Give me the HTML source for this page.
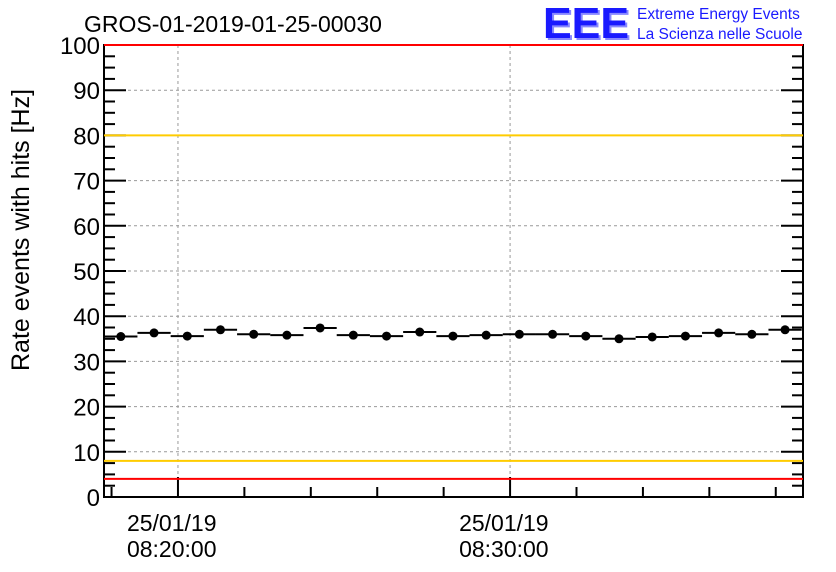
<!DOCTYPE html>
<html><head><meta charset="utf-8"><style>
body{margin:0;background:#fff}
svg{display:block;font-family:"Liberation Sans",sans-serif}
</style></head><body>
<svg id="chart" width="836" height="572" viewBox="0 0 836 572" xmlns="http://www.w3.org/2000/svg">
<rect width="836" height="572" fill="#fff"/>
<text x="84" y="32" font-size="23" fill="#000">GROS-01-2019-01-25-00030</text>
<g>
<text x="545" y="40" font-size="44" font-weight="bold" fill="#8888ff" textLength="86" lengthAdjust="spacingAndGlyphs">EEE</text>
<text x="543" y="38" font-size="44" font-weight="bold" fill="#1a1aff" textLength="86" lengthAdjust="spacingAndGlyphs">EEE</text>
<text x="637" y="19" font-size="15.5" fill="#1a1aff">Extreme Energy Events</text>
<text x="637" y="39" font-size="15.5" fill="#1a1aff">La Scienza nelle Scuole</text>
</g>
<text transform="translate(29,371) rotate(-90)" font-size="25" fill="#000">Rate events with hits [Hz]</text>
<g id="grid"></g><g id="axes"></g><g id="marks"></g>
</svg>
<script>
const values=[35.5,36.3,35.6,37.0,36.0,35.8,37.4,35.8,35.6,36.5,35.6,35.8,36.0,36.0,35.6,35.0,35.4,35.6,36.3,36.0,37.0];
const firstMin=-1.72; // minutes relative to 08:20:00
const binMin=1.0;
const yTicks=[0,10,20,30,40,50,60,70,80,90,100];
const xTickMins=[0,10];
const xTickLabels=[["25/01/19","08:20:00"],["25/01/19","08:30:00"]];
const thresholds=[{v:100,c:"#ff0000"},{v:80,c:"#ffcc00"},{v:8,c:"#ffcc00"},{v:4,c:"#ff0000"}];
const L=104,R=803,T=45,B=497;
const xMin=-2.227,xMax=18.82;
const X=m=>L+(m-xMin)/(xMax-xMin)*(R-L);
const Y=v=>B-v/100*(B-T);
const NS="http://www.w3.org/2000/svg";
function mk(p,tag,a){const e=document.createElementNS(NS,tag);for(const k in a)e.setAttribute(k,a[k]);p.appendChild(e);return e;}
const grid=document.getElementById('grid'),axes=document.getElementById('axes'),marks=document.getElementById('marks');
yTicks.forEach(v=>{if(v>0&&v<100){const g=mk(grid,'line',{x1:L,x2:R,y1:Y(v),y2:Y(v),stroke:'#999','stroke-dasharray':'3,3','stroke-width':1});

}
const t=mk(axes,'text',{x:L-4,y:Y(v)+9,'text-anchor':'end','font-size':24});t.textContent=v;

});
xTickMins.forEach((m,i)=>{const g=mk(grid,'line',{x1:X(m),x2:X(m),y1:T,y2:B,stroke:'#999','stroke-dasharray':'3,3','stroke-width':1});


xTickLabels[i].forEach((s,j)=>{const t=mk(axes,'text',{x:X(m)-51,y:531+j*26,'font-size':23});t.textContent=s;

});});
for(let v=0;v<=100;v+=2.5){const big=v%10===0,len=big?22:11;
mk(axes,'line',{x1:L,x2:L+len,y1:Y(v),y2:Y(v),stroke:'#000','stroke-width':2});
mk(axes,'line',{x1:R-len,x2:R,y1:Y(v),y2:Y(v),stroke:'#000','stroke-width':2});}
for(let m=-2;m<=xMax;m+=2){const big=m%10===0,len=big?20:10;
mk(axes,'line',{x1:X(m),x2:X(m),y1:B,y2:B-len,stroke:'#000','stroke-width':2});}
thresholds.forEach(th=>{const l=mk(marks,'line',{x1:L,x2:R,y1:Y(th.v),y2:Y(th.v),stroke:th.c,'stroke-width':2});

});
const fr=mk(axes,'rect',{x:L,y:T,width:R-L,height:B-T,fill:'none',stroke:'#000','stroke-width':2});


values.forEach((v,i)=>{const m=firstMin+i*binMin;
const l=mk(marks,'line',{x1:X(m-binMin/2),x2:X(m+binMin/2),y1:Y(v),y2:Y(v),stroke:'#000','stroke-width':2});


const c=mk(marks,'circle',{cx:X(m),cy:Y(v),r:4.5,fill:'#000'});

});
</script>
</body></html>
